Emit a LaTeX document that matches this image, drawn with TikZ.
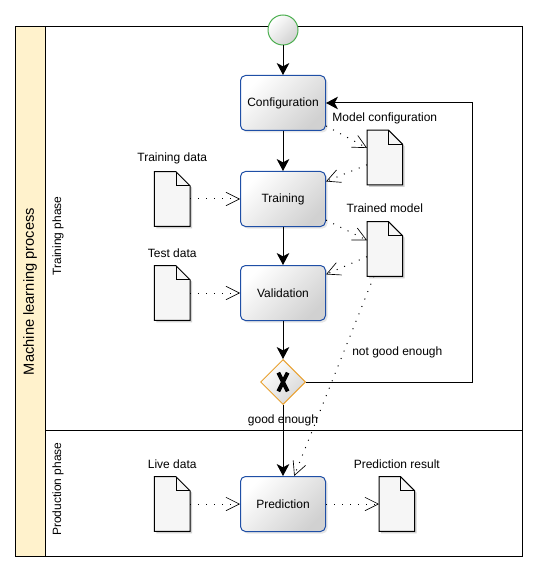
\documentclass[tikz,border=0pt]{standalone}
\usepackage{fontspec}
\setmainfont{Liberation Sans}
\usetikzlibrary{positioning,shapes.geometric,arrows.meta,shadows}
\definecolor{poolyellow}{HTML}{FFF2CC}
\definecolor{taskblue}{HTML}{1F4FA6}
\definecolor{startgreen}{HTML}{4CAF50}
\definecolor{gateorange}{HTML}{E8A030}
\definecolor{docfill}{HTML}{F6F6F6}
\tikzset{
  task/.style={draw=taskblue,line width=0.75pt,rounded corners=3.75pt,
    top color=white,bottom color=black!18,shading angle=45,
    minimum width=63.75pt,minimum height=41.25pt,inner sep=0pt,
    drop shadow={opacity=0.2,shadow xshift=1.5pt,shadow yshift=-1.5pt}},
  startevent/.style={circle,draw=startgreen,line width=0.75pt,
    top color=white,bottom color=black!18,shading angle=45,
    minimum size=22.5pt,inner sep=0pt},
  gateway/.style={diamond,draw=gateorange,line width=0.75pt,
    top color=white,bottom color=black!16,shading angle=45,
    minimum size=33.75pt,inner sep=0pt,
    path picture={
      \draw[black,line width=3pt] ([shift={(-3.5pt,-7pt)}]path picture bounding box.center)
        -- ([shift={(3.5pt,7pt)}]path picture bounding box.center)
        ([shift={(-3.5pt,7pt)}]path picture bounding box.center)
        -- ([shift={(3.5pt,-7pt)}]path picture bounding box.center);}},
  docu/.style={minimum width=26.25pt,minimum height=40.5pt,inner sep=0pt},
  flow/.style={-{Stealth[length=9pt,width=9.5pt,inset=2.5pt]},line width=0.75pt},
  assoc/.style={-{Straight Barb[length=10pt,width=10pt,line width=0.5pt]},line width=0.75pt,
    dash pattern=on 0.75pt off 5.25pt}
}
% page with folded corner around a docu node
\newcommand\docpage[1]{%
  \fill[black,opacity=0.18]
    ([shift={(1.5pt,-1.5pt)}]#1.north west) -- ([shift={(-9pt,-1.5pt)}]#1.north east)
    -- ([shift={(1.5pt,-12pt)}]#1.north east) -- ([shift={(1.5pt,-1.5pt)}]#1.south east)
    -- ([shift={(1.5pt,-1.5pt)}]#1.south west) -- cycle;
  \filldraw[fill=docfill,draw=black,line width=0.75pt]
    (#1.north west) -- ([xshift=-10.5pt]#1.north east) -- ([yshift=-10.5pt]#1.north east)
    -- (#1.south east) -- (#1.south west) -- cycle;
  \draw[line width=0.75pt] ([xshift=-10.5pt]#1.north east) |- ([yshift=-10.5pt]#1.north east);
}

\begin{document}
\begin{tikzpicture}[x=0.75pt,y=-0.75pt,font=\fontsize{9}{11}\selectfont,
  every label/.style={label distance=2.5pt}]
  \useasboundingbox (0,0) rectangle (537,570);
  % pool and lanes
  \filldraw[fill=poolyellow,line width=0.75pt] (15,27) rectangle (45,556);
  \draw[line width=0.75pt] (45,27) rectangle (522,556) (45,430) -- (522,430);
  \node (pool) [rotate=90,font=\fontsize{11}{13}\selectfont] at (30,291.5) {Machine learning process};
  \node (trainlane) [rotate=90] at (58,236) {Training phase};
  \node (prodlane) [rotate=90] at (58,489) {Production phase};

  % process
  \node (start) [startevent] at (283,30) {};
  \node (conf) [task] at (283,103) {Configuration};
  \node (train) [task] at (283,199) {Training};
  \node (val) [task] at (283,293) {Validation};
  \node (gw) [gateway] at (283,382) {};
  \node (pred) [task] at (283,504) {Prediction};

  % data objects
  \node (tdata) [docu,left=37.5pt of train,label={above:Training data}] {};
  \node (testdata) [docu,left=37.5pt of val,label={above:Test data}] {};
  \node (mconf) [docu,label={[label distance=1.5pt]above:Model configuration}] at (384.8,157.5) {};
  \node (tmodel) [docu,label={[label distance=3.5pt]above:Trained model}] at (384.8,249) {};
  \node (ldata) [docu,left=37.5pt of pred,label={above:Live data}] {};
  \node (presult) [docu,right=39.75pt of pred,label={above:Prediction result}] {};
  \foreach \d in {tdata,testdata,mconf,tmodel,ldata,presult}
    \docpage{\d};

  % sequence flow
  \draw[flow] (start) -- (conf);
  \draw[flow] (conf) -- (train);
  \draw[flow] (train) -- (val);
  \draw[flow] (val) -- (gw);
  \draw[flow] (gw) -- node[pos=0.22] {good enough} (pred);
  \draw[flow] (gw.east) -- node[pos=0.55,above=14pt] {not good enough} ++(166,0) |- (conf.east);

  % data associations
  \draw[assoc] (tdata) -- (train);
  \draw[assoc] (testdata) -- (val);
  \draw[assoc] (conf) -- (mconf);
  \draw[assoc] (mconf) -- (train);
  \draw[assoc] (train) -- (tmodel);
  \draw[assoc] (tmodel) -- (val);
  \draw[assoc] (tmodel) -- (pred);
  \draw[assoc] (ldata) -- (pred);
  \draw[assoc] (pred) -- (presult);
\end{tikzpicture}
\end{document}
